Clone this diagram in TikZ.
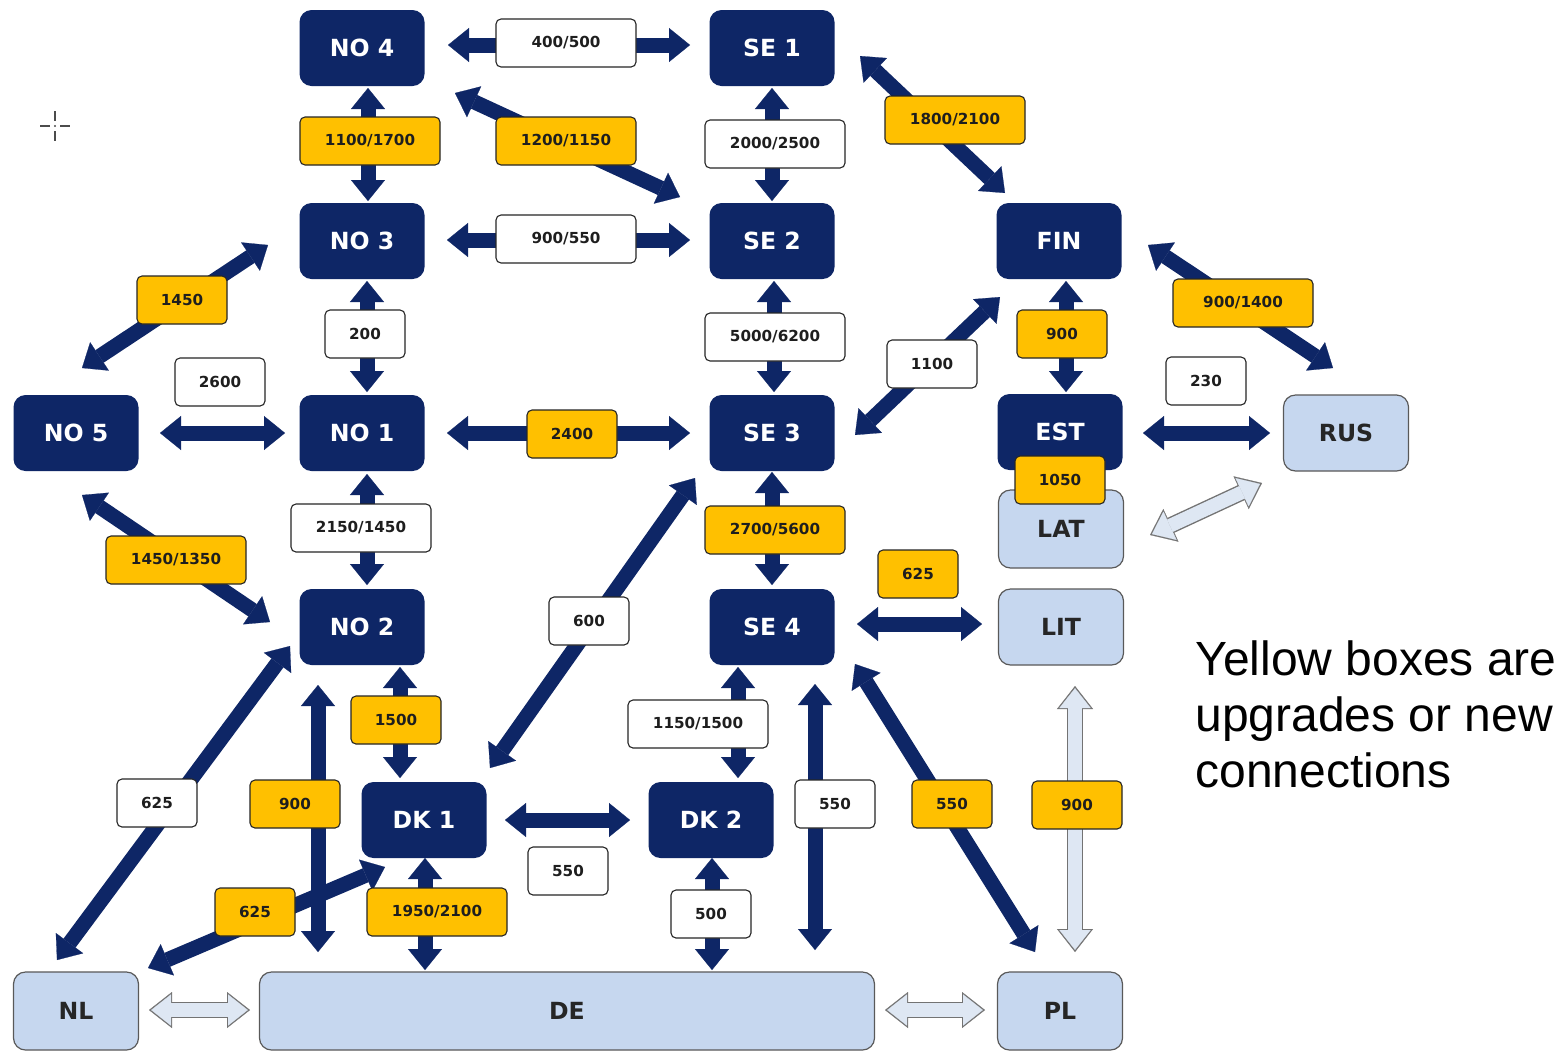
\documentclass[tikz,border=0pt]{standalone}
\usepackage{fontspec}
\setmainfont{DejaVu Sans}
\newfontfamily\legendfont{Liberation Sans}
\usetikzlibrary{arrows.meta,calc}
\definecolor{navy}{RGB}{14,38,102}
\definecolor{gold}{RGB}{255,192,0}
\definecolor{paleblue}{RGB}{198,215,239}
\definecolor{palearrow}{RGB}{222,231,243}
\definecolor{labtext}{RGB}{30,30,30}
\tikzset{
  zone/.style={rounded corners=6pt, minimum width=62.5pt, minimum height=38pt, inner sep=0pt,
    font=\fontsize{11.8}{14}\selectfont\bfseries},
  darkzone/.style={zone, fill=navy, text=white},
  lightzone/.style={zone, fill=paleblue, draw=black!65, line width=0.6pt, text=black!85},
  lab/.style={rounded corners=2.5pt, draw=black!85, line width=0.55pt, minimum height=24pt,
    inner sep=0pt, text=labtext, font=\fontsize{7.6}{9}\selectfont\bfseries},
  wlab/.style={lab, fill=white},
  ylab/.style={lab, fill=gold},
  labwide/.style={minimum width=70pt},
  labnarrow/.style={minimum width=45pt},
  labslim/.style={minimum width=40pt},
  link/.style={draw=navy, line width=7.5pt,
    {Triangle[width=17pt,length=10.5pt,line width=0.1pt]}-{Triangle[width=17pt,length=10.5pt,line width=0.1pt]}},
  palerim/.style={draw=black!55, line width=8.2pt,
    {Triangle[width=18pt,length=11.5pt,line width=0.1pt]}-{Triangle[width=18pt,length=11.5pt,line width=0.1pt]}},
  palecore/.style={draw=palearrow, line width=6.8pt, shorten <=1.1pt, shorten >=1.1pt,
    {Triangle[width=15.6pt,length=9.9pt,line width=0.1pt]}-{Triangle[width=15.6pt,length=9.9pt,line width=0.1pt]}},
}
\newcommand\palelink[2]{\draw[palerim] #1 -- #2; \draw[palecore] #1 -- #2;}
\begin{document}
\begin{tikzpicture}[x=0.5pt,y=-0.5pt]
\useasboundingbox (0,0) rectangle (1567,1051);
\fill[white] (0,0) rectangle (1567,1051);

% cross marker
\draw[black!70, line width=0.7pt] (40,126) -- (50,126) (60,126) -- (70,126)
  (55,111) -- (55,121) (55,131) -- (55,141);
\fill[black!70] (55,126) circle (0.6pt);

% zones
\node[darkzone] (no4) at (362,48) {NO 4};
\node[darkzone] (se1) at (772,48) {SE 1};
\node[darkzone] (no3) at (362,241) {NO 3};
\node[darkzone] (se2) at (772,241) {SE 2};
\node[darkzone] (fin) at (1059,241) {FIN};
\node[darkzone] (no5) at (76,433) {NO 5};
\node[darkzone] (no1) at (362,433) {NO 1};
\node[darkzone] (se3) at (772,433) {SE 3};
\node[darkzone] (est) at (1060,432) {EST};
\node[lightzone] (rus) at (1346,433) {RUS};
\node[lightzone, minimum height=39pt] (lat) at (1061,529) {LAT};
\node[lightzone] (lit) at (1061,627) {LIT};
\node[darkzone] (no2) at (362,627) {NO 2};
\node[darkzone] (se4) at (772,627) {SE 4};
\node[darkzone] (dk1) at (424,820) {DK 1};
\node[darkzone] (dk2) at (711,820) {DK 2};
\node[lightzone, minimum height=39pt] (nl) at (76,1011) {NL};
\node[lightzone, minimum width=307.5pt, minimum height=39pt] (de) at (567,1011) {DE};
\node[lightzone, minimum height=39pt] (pl) at (1060,1011) {PL};

% dark links
\draw[link] ($(no4.center)+(86,-3)$) -- ($(se1.center)+(-82,-3)$);
\draw[link] ($(no4.center)+(6,40)$) -- ($(no3.center)+(6,-40)$);
\draw[link] ($(no4.center)+(93,45)$) -- ($(se2.center)+(-92,-44)$);
\draw[link] ($(se1.center)+(0,40)$) -- ($(se2.center)+(0,-40)$);
\draw[link] ($(se1.center)+(88,8)$) -- ($(fin.center)+(-54,-48)$);
\draw[link] ($(no3.center)+(85,-1)$) -- ($(se2.center)+(-82,-1)$);
\draw[link] ($(no3.center)+(-94,4)$) -- ($(no5.center)+(6,-65)$);
\draw[link] ($(no3.center)+(5,40)$) -- ($(no1.center)+(5,-41)$);
\draw[link] ($(se2.center)+(2,40)$) -- ($(se3.center)+(2,-41)$);
\draw[link] ($(fin.center)+(7,40)$) -- ($(est.center)+(6,-40)$);
\draw[link] ($(fin.center)+(-59,56)$) -- ($(se3.center)+(83,2)$);
\draw[link] ($(fin.center)+(89,4)$) -- ($(rus.center)+(-13,-65)$);
\draw[link] ($(no5.center)+(84,0)$) -- ($(no1.center)+(-77,0)$);
\draw[link] ($(no1.center)+(85,0)$) -- ($(se3.center)+(-82,0)$);
\draw[link] ($(est.center)+(83,1)$) -- ($(rus.center)+(-76,0)$);
\draw[link] ($(no1.center)+(5,41)$) -- ($(no2.center)+(5,-42)$);
\draw[link] ($(no5.center)+(6,62)$) -- ($(no2.center)+(-92,-5)$);
\draw[link] ($(se3.center)+(0,39)$) -- ($(se4.center)+(0,-42)$);
\draw[link] ($(dk1.center)+(66,-52)$) -- ($(se3.center)+(-77,45)$);
\draw[link] ($(se4.center)+(85,-3)$) -- ($(lit.center)+(-79,-3)$);
\draw[link] ($(no2.center)+(38,40)$) -- ($(dk1.center)+(-24,-42)$);
\draw[link] ($(no2.center)+(-72,19)$) -- ($(nl.center)+(-19,-51)$);
\draw[link] ($(no2.center)+(-44,58)$) -- ($(de.center)+(-249,-59)$);
\draw[link] ($(se4.center)+(-34,40)$) -- ($(dk2.center)+(27,-42)$);
\draw[link] ($(se4.center)+(43,57)$) -- ($(de.center)+(248,-61)$);
\draw[link] ($(se4.center)+(83,37)$) -- ($(pl.center)+(-25,-59)$);
\draw[link] ($(dk1.center)+(81,0)$) -- ($(dk2.center)+(-81,0)$);
\draw[link] ($(dk1.center)+(-39,47)$) -- ($(nl.center)+(72,-43)$);
\draw[link] ($(dk1.center)+(1,38)$) -- ($(de.center)+(-142,-41)$);
\draw[link] ($(dk2.center)+(1,38)$) -- ($(de.center)+(145,-41)$);

% pale links
\palelink{($(lat.center)+(89,6)$)}{($(rus.center)+(-84,50)$)}
\palelink{($(lit.center)+(14,59)$)}{($(pl.center)+(15,-59)$)}
\palelink{($(nl.center)+(73,-1)$)}{($(de.center)+(-317,-1)$)}
\palelink{($(de.center)+(318,-1)$)}{($(pl.center)+(-75,-1)$)}

% capacity labels
\node[wlab,labwide] (c1) at (566,43) {400/500};
\node[ylab,labwide] (c2) at (370,141) {1100/1700};
\node[ylab,labwide] (c3) at (566,141) {1200/1150};
\node[wlab,labwide] (c4) at (775,144) {2000/2500};
\node[ylab,labwide] (c5) at (955,120) {1800/2100};
\node[wlab,labwide] (c6) at (566,239) {900/550};
\node[ylab,labnarrow] (c7) at (182,300) {1450};
\node[ylab,labwide] (c8) at (1243,303) {900/1400};
\node[wlab,labslim] (c9) at (365,334) {200};
\node[wlab,labwide] (c10) at (775,337) {5000/6200};
\node[ylab,labnarrow] (c11) at (1062,334) {900};
\node[wlab,labnarrow] (c12) at (932,364) {1100};
\node[wlab,labnarrow] (c13) at (220,382) {2600};
\node[wlab,labslim] (c14) at (1206,381) {230};
\node[ylab,labnarrow] (c15) at (572,434) {2400};
\node[ylab,labnarrow] (c16) at (1060,480) {1050};
\node[wlab,labwide] (c17) at (361,528) {2150/1450};
\node[ylab,labwide] (c18) at (775,530) {2700/5600};
\node[ylab,labwide] (c19) at (176,560) {1450/1350};
\node[ylab,labslim] (c20) at (918,574) {625};
\node[wlab,labslim] (c21) at (589,621) {600};
\node[ylab,labnarrow] (c22) at (396,720) {1500};
\node[wlab,labwide] (c23) at (698,724) {1150/1500};
\node[wlab,labslim] (c24) at (157,803) {625};
\node[ylab,labnarrow] (c25) at (295,804) {900};
\node[wlab,labslim] (c26) at (835,804) {550};
\node[ylab,labslim] (c27) at (952,804) {550};
\node[ylab,labnarrow] (c28) at (1077,805) {900};
\node[wlab,labslim] (c29) at (568,871) {550};
\node[ylab,labslim] (c30) at (255,912) {625};
\node[ylab,labwide] (c31) at (437,912) {1950/2100};
\node[wlab,labslim] (c32) at (711,914) {500};

% legend
\node[anchor=north west, align=left, inner sep=0pt,
  font=\legendfont\fontsize{24}{28}\selectfont] (legend) at (1195,640)
  {Yellow boxes are\\upgrades or new\\connections};
\end{tikzpicture}
\end{document}
